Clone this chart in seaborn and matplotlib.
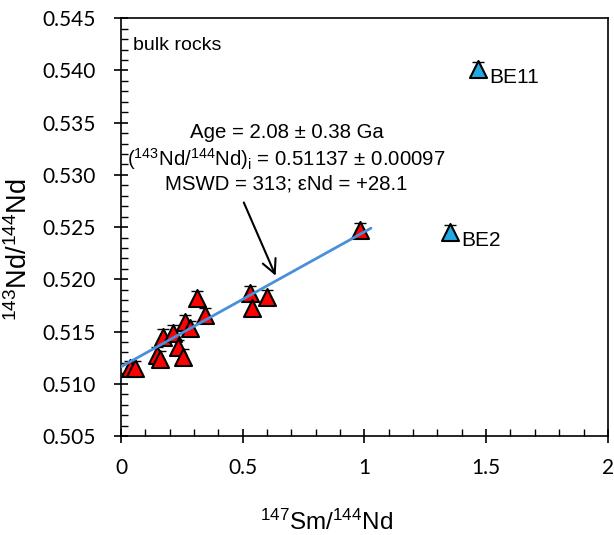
import matplotlib
matplotlib.use("Agg")
import matplotlib.pyplot as plt
from matplotlib.ticker import MultipleLocator, FormatStrFormatter, FuncFormatter
import seaborn as sns
import pandas as pd

# ---- data ----
red_x = [0.037, 0.057, 0.150, 0.160, 0.173, 0.214, 0.234, 0.255, 0.263, 0.283,
         0.312, 0.345, 0.530, 0.538, 0.600, 0.981]
red_y = [0.5115, 0.5115, 0.5128, 0.5124, 0.5145, 0.5149, 0.5135, 0.5126, 0.5159, 0.5153,
         0.5182, 0.5166, 0.5187, 0.5173, 0.5183, 0.5247]
red_err = [0.0007, 0.0007, 0.0007, 0.0007, 0.0007, 0.0007, 0.0007, 0.0007, 0.0007, 0.0007,
           0.0007, 0.0007, 0.0007, 0.0007, 0.0007, 0.0007]
blue_names = ["BE11", "BE2"]
blue_x = [1.466, 1.351]
blue_y = [0.5401, 0.5245]
blue_err = [0.0007, 0.0007]
line_x = [-0.025, 1.027]
line_y = [0.5113, 0.5249]
arrow_start = (0.50, 0.5276)
arrow_tip = (0.64, 0.5201)
x_ticks = [0, 0.5, 1, 1.5, 2]
y_ticks = [0.505, 0.510, 0.515, 0.520, 0.525, 0.530, 0.535, 0.540, 0.545]

sns.set_style("white")
plt.rcParams["font.family"] = ["Liberation Sans", "DejaVu Sans"]
plt.rcParams["mathtext.default"] = "regular"
plt.rcParams["text.color"] = "black"
plt.rcParams["axes.labelcolor"] = "black"
plt.rcParams["xtick.color"] = "black"
plt.rcParams["ytick.color"] = "black"

fig = plt.figure(figsize=(6.14, 5.35), dpi=100)
ax = fig.add_axes([0.197, 0.185, 0.793, 0.781])

red_df = pd.DataFrame({"x": red_x, "y": red_y})
blue_df = pd.DataFrame({"x": blue_x, "y": blue_y, "name": blue_names})
line_df = pd.DataFrame({"x": line_x, "y": line_y})

ax.errorbar(red_x, red_y, yerr=red_err, fmt="none", ecolor="black", elinewidth=1,
            capsize=4, capthick=1, zorder=2)
ax.errorbar(blue_x, blue_y, yerr=blue_err, fmt="none", ecolor="black", elinewidth=1,
            capsize=4, capthick=1, zorder=2)
sns.scatterplot(data=red_df, x="x", y="y", marker="^", s=150, color="#ff0000",
                edgecolor="black", linewidth=1.5, ax=ax, zorder=3)
sns.scatterplot(data=blue_df, x="x", y="y", marker="^", s=150, color="#22a9e1",
                edgecolor="black", linewidth=1.5, ax=ax, zorder=3)
sns.lineplot(data=line_df, x="x", y="y", color="#4a8fd9", linewidth=2, ax=ax, zorder=4)

for n, bx, by in zip(blue_names, blue_x, blue_y):
    ax.text(bx + 0.045, by - 0.0008, n, fontsize=15, ha="left", va="center", color="black")

ax.set_xlim(0, 2)
ax.set_ylim(0.505, 0.545)
ax.set_xticks(x_ticks)
ax.set_yticks(y_ticks)
ax.xaxis.set_major_formatter(FuncFormatter(lambda v, p: f"{v:g}"))
ax.yaxis.set_major_formatter(FormatStrFormatter("%.3f"))
ax.xaxis.set_minor_locator(MultipleLocator(0.1))
ax.yaxis.set_minor_locator(MultipleLocator(0.001))
ax.tick_params(axis="both", which="major", direction="inout", length=10, width=1.2,
               labelsize=15, color="black", labelcolor="black")
ax.tick_params(axis="x", which="major", pad=11)
ax.tick_params(axis="y", which="major", pad=13)
ax.tick_params(axis="both", which="minor", direction="in", length=5, width=1.0, color="black")
ax.tick_params(axis="x", which="both", top=False, bottom=True)
ax.tick_params(axis="y", which="both", right=False, left=True)
for lbl in ax.get_xticklabels() + ax.get_yticklabels():
    lbl.set_fontfamily(["Lato", "DejaVu Sans"])
for s in ax.spines.values():
    s.set_visible(True)
    s.set_color("black")
    s.set_linewidth(1.2)

ax.set_xlabel(r"$^{147}$Sm/$^{144}$Nd", fontsize=17.5, color="black")
ax.set_ylabel(r"$^{143}$Nd/$^{144}$Nd", fontsize=19.5, color="black")
ax.xaxis.set_label_coords(0.423, -0.177)
ax.yaxis.set_label_coords(-0.181, 0.445)

ax.text(0.049, 0.5424, "bulk rocks", fontsize=14, ha="left", va="center", color="black")
ax.text(0.68, 0.5316,
        "Age = 2.08 ± 0.38 Ga\n($^{143}$Nd/$^{144}$Nd)$_{i}$ = 0.51137 ± 0.00097\nMSWD = 313; εNd = +28.1",
        fontsize=14.7, ha="center", va="center", linespacing=1.2, color="black")
ax.annotate("", xy=arrow_tip, xytext=arrow_start,
            arrowprops=dict(arrowstyle="->", color="black", lw=1.5, mutation_scale=25))

fig.savefig("out.png", dpi=100)
